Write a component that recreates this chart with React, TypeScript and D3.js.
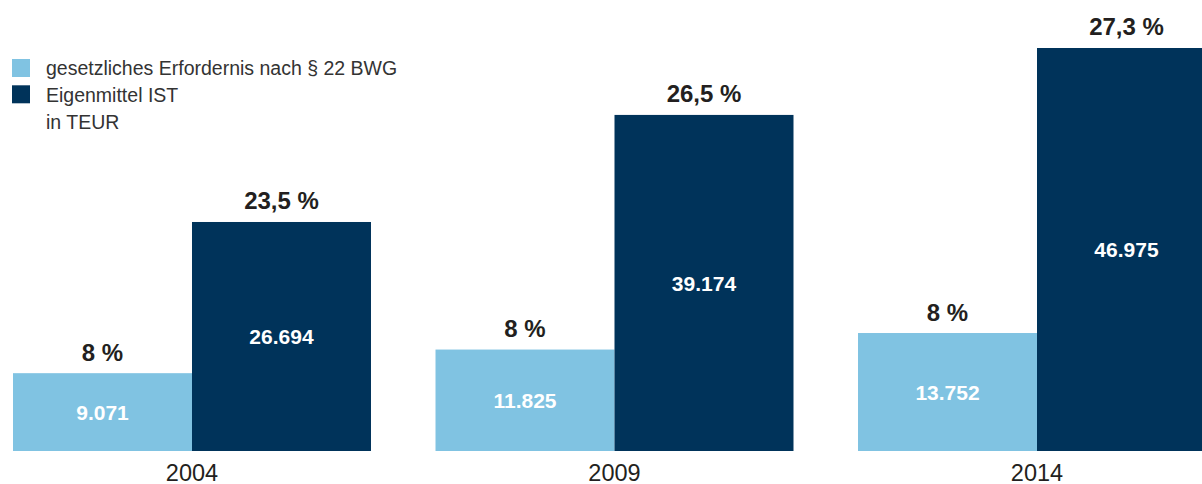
import React from "react";
import * as d3 from "d3";

const years = ["2004", "2009", "2014"];
const seriesKeys = ["legal", "actual"];
const seriesLabels = ["gesetzliches Erfordernis nach § 22 BWG", "Eigenmittel IST"];
const legalValues = [9071, 11825, 13752];
const actualValues = [26694, 39174, 46975];
const legalPct = ["8 %", "8 %", "8 %"];
const actualPct = ["23,5 %", "26,5 %", "27,3 %"];
const unitLabel = "in TEUR";

const W = 1202;
const H = 484;
const colors = ["#80C3E2", "#00335A"];
const FONT = "'Liberation Sans', Arial, Helvetica, sans-serif";

const de = d3.formatLocale({ decimal: ",", thousands: ".", grouping: [3], currency: ["", " €"] });
const fmt = de.format(",d");

export default function App() {
  const x0 = d3.scaleBand().domain(years).range([13, 1216]).paddingInner(0.1527).paddingOuter(0);
  const x1 = d3.scaleBand().domain(seriesKeys).range([0, x0.bandwidth()]).padding(0);
  const y = d3.scaleLinear().domain([0, 52570]).range([451, 0]);

  const rows = years.map((yr, i) => ({
    year: yr,
    vals: [legalValues[i], actualValues[i]],
    pcts: [legalPct[i], actualPct[i]],
  }));

  return (
    <div style={{ position: "absolute", left: 0, top: 0 }}>
      <svg width={W} height={H} style={{ display: "block" }} fontFamily={FONT}>
        <rect width={W} height={H} fill="#fff" />
        {rows.map((r) => (
          <g key={r.year} transform={`translate(${x0(r.year)},0)`}>
            {seriesKeys.map((k, j) => {
              const bx = x1(k)!;
              const bw = x1.bandwidth();
              const top = y(r.vals[j]);
              const bottom = y(0);
              return (
                <g key={k}>
                  <rect x={bx} y={top} width={bw} height={bottom - top} fill={colors[j]} />
                  <text
                    x={bx + bw / 2}
                    y={(top + bottom) / 2}
                    dy="0.36em"
                    textAnchor="middle"
                    fill="#fff"
                    fontWeight="bold"
                    fontSize={21}
                  >
                    {fmt(r.vals[j])}
                  </text>
                  <text
                    x={bx + bw / 2}
                    y={top - 12.5}
                    textAnchor="middle"
                    fill="#231f20"
                    fontWeight="bold"
                    fontSize={24}
                  >
                    {r.pcts[j]}
                  </text>
                </g>
              );
            })}
            <text
              x={x0.bandwidth() / 2}
              y={481}
              textAnchor="middle"
              fill="#231f20"
              fontSize={23.5}
            >
              {r.year}
            </text>
          </g>
        ))}
        <g>
          {seriesLabels.map((lab, j) => (
            <g key={lab} transform={`translate(12,${59 + j * 26.3})`}>
              <rect width={18} height={18} fill={colors[j]} />
              <text x={34} y={16.3} fontSize={19.5} fill="#333">
                {lab}
              </text>
            </g>
          ))}
          <text x={46} y={128.5} fontSize={19.5} fill="#333">
            {unitLabel}
          </text>
        </g>
      </svg>
    </div>
  );
}
